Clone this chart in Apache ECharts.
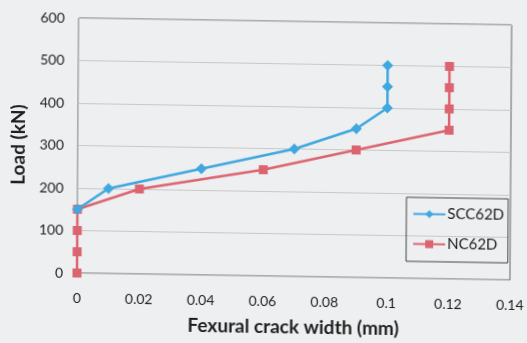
<!DOCTYPE html>
<html>
<head>
<meta charset="utf-8">
<script src="https://cdn.jsdelivr.net/npm/echarts@6/dist/echarts.min.js"></script>
<style>
  html, body { margin: 0; padding: 0; background: #eeeff0; }
  #chart {
    width: 527px; height: 343px;
    /* the printed figure sits slightly skewed on the page */
    transform-origin: 76px 273px;
    transform: matrix(1, 0.016, -0.0067, 1, 0, 0);
  }
</style>
</head>
<body>
<div id="chart"></div>
<script>
// Crack width (mm) and applied load (kN) for each beam
const sccWidth = [0, 0.01, 0.04, 0.07, 0.09, 0.1, 0.1, 0.1];
const sccLoad  = [150, 200, 250, 300, 350, 400, 450, 500];
const ncWidth  = [0, 0, 0, 0, 0.02, 0.06, 0.09, 0.12, 0.12, 0.12, 0.12];
const ncLoad   = [0, 50, 100, 150, 200, 250, 300, 350, 400, 450, 500];

const xTicks = [0, 0.02, 0.04, 0.06, 0.08, 0.1, 0.12, 0.14];
const yTicks = [0, 100, 200, 300, 400, 500, 600];

const pairs = (xs, ys) => xs.map((x, i) => [x, ys[i]]);
const font = 'Lato, "Open Sans", sans-serif';

const chart = echarts.init(document.getElementById('chart'));
chart.setOption({
  backgroundColor: 'transparent',
  animation: false,
  grid: {
    left: 76, right: 17, top: 18, bottom: 70,
    show: true, borderColor: '#666', borderWidth: 1
  },
  legend: {
    orient: 'vertical',
    left: 406, top: 192,
    padding: [9, 4, 10, 6],
    itemGap: 15,
    itemWidth: 32, itemHeight: 10,
    borderColor: '#444', borderWidth: 1,
    textStyle: { fontFamily: font, fontSize: 15, color: '#1e1e1e', padding: [0, 0, 0, -3] },
    data: ['SCC62D', 'NC62D']
  },
  xAxis: {
    type: 'value',
    min: xTicks[0], max: xTicks[xTicks.length - 1], interval: 0.02,
    name: 'Fexural crack width (mm)',
    nameLocation: 'middle', nameGap: 41,
    nameTextStyle: { fontFamily: font, fontSize: 19, fontWeight: 'bold', color: '#1e1e1e' },
    axisLine: { show: true, lineStyle: { color: '#c4c4c4', width: 1 } },
    axisTick: { show: false },
    axisLabel: {
      margin: 18, fontFamily: font, fontSize: 14, color: '#1e1e1e',
      formatter: v => String(+v.toFixed(2))
    },
    splitLine: { show: false }
  },
  yAxis: {
    type: 'value',
    min: yTicks[0], max: yTicks[yTicks.length - 1], interval: 100,
    name: 'Load (kN)',
    nameLocation: 'middle', nameGap: 50,
    nameTextStyle: { fontFamily: font, fontSize: 19, fontWeight: 'bold', color: '#1e1e1e' },
    axisLine: { show: true, lineStyle: { color: '#c4c4c4', width: 1 } },
    axisTick: { show: false },
    axisLabel: { margin: 14, fontFamily: font, fontSize: 14, color: '#1e1e1e' },
    splitLine: { show: true, lineStyle: { color: '#c8c8c8', width: 1 } }
  },
  series: [
    {
      name: 'SCC62D', type: 'line',
      data: pairs(sccWidth, sccLoad),
      symbol: 'diamond', symbolSize: 11,
      lineStyle: { color: '#3fa8df', width: 2.5 },
      itemStyle: { color: '#3fa8df' },
      z: 3
    },
    {
      name: 'NC62D', type: 'line',
      data: pairs(ncWidth, ncLoad),
      symbol: 'rect', symbolSize: 9,
      lineStyle: { color: '#dc6470', width: 2.5 },
      itemStyle: { color: '#dc6470' },
      z: 2
    }
  ]
});
</script>
</body>
</html>
